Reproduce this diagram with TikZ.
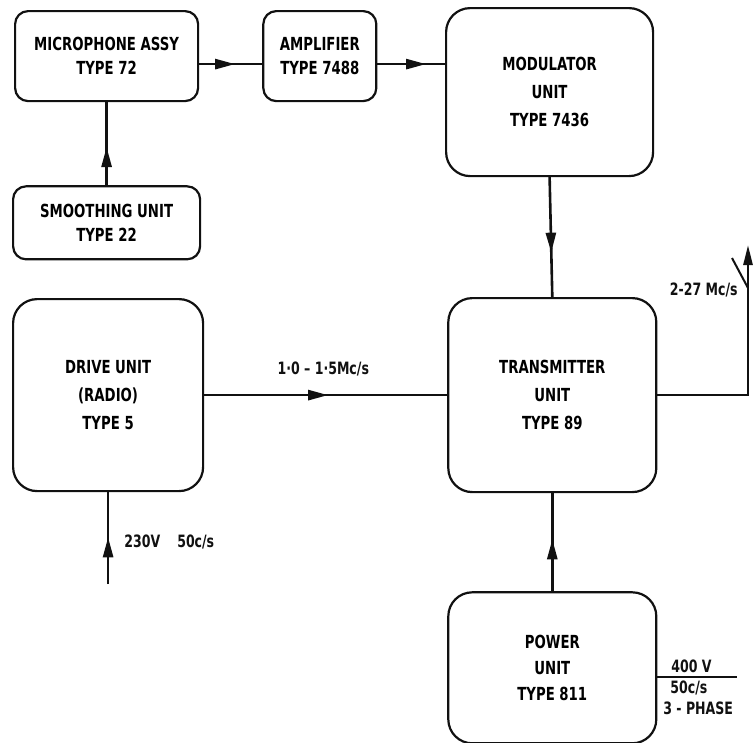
\documentclass[tikz,border=0pt]{standalone}
\usepackage{fontspec}
\usepackage{tikz}
\usetikzlibrary{
  arrows.meta,
  positioning,
  calc,
  decorations.markings
}
\newfontfamily\handfont[FakeStretch=0.82]{DejaVu Sans Condensed}
\definecolor{ink}{HTML}{111111}
\tikzset{
  unit/.style={
    draw=ink, rounded corners=24pt, line width=2.2pt, align=center, inner sep=0pt,
    font=\handfont\bfseries\fontsize{18}{28}\selectfont
  },
  smallunit/.style={unit, rounded corners=13pt, font=\handfont\bfseries\fontsize{18}{24}\selectfont},
  wire/.style={line width=2.6pt, draw=ink, color=ink},
  feed/.style={
    wire, postaction={decorate},
    decoration={markings, mark=at position #1 with {\arrow{Triangle[length=20pt, width=10pt]}}}
  },
  feed/.default=0.5,
  sig/.style={font=\handfont\bfseries\fontsize{17}{21}\selectfont, inner sep=1pt, text=ink}
}

\begin{document}
\begin{tikzpicture}[x=1pt, y=-1pt]
  \useasboundingbox (0,0) rectangle (754,742);
  % units
  \node[smallunit, anchor=north west, minimum width=183pt, minimum height=90pt] (mic) at (14,10) {MICROPHONE ASSY\\TYPE 72};
  \node[smallunit, right=63pt of mic, minimum width=113pt, minimum height=90pt] (amp) {AMPLIFIER\\TYPE 7488};
  \node[unit, anchor=north west, minimum width=207pt, minimum height=168pt] (mod) at (445,7) {MODULATOR\\UNIT\\TYPE 7436};
  \node[smallunit, below=83pt of mic, minimum width=187pt, minimum height=73pt] (smooth) {SMOOTHING UNIT\\TYPE 22};
  \node[unit, anchor=north west, minimum width=190pt, minimum height=192pt] (drive) at (12,298) {DRIVE UNIT\\(RADIO)\\TYPE 5};
  \node[unit, right=243pt of drive, minimum width=208pt, minimum height=194pt] (trans) {TRANSMITTER\\UNIT\\TYPE 89};
  \node[unit, below=98pt of trans, minimum width=208pt, minimum height=151pt, font=\handfont\bfseries\fontsize{18}{26}\selectfont] (power) {POWER\\UNIT\\TYPE 811};
  % free ends
  \coordinate (mains) at ($(drive.south)+(0,92)$);
  \coordinate (aerialfoot) at (trans.east -| 748,0);
  \coordinate (aerialtip) at (748,245);
  \coordinate (dipole) at (732,258);
  \coordinate (aerialknee) at (748,288);
  \coordinate (mainsin) at (737,677);
  % connections
  \draw[feed=0.57] ([yshift=-8pt]mic.east) -- ([yshift=-8pt]amp.west);
  \draw[feed=0.72] ([yshift=-8pt]amp.east) -- ([yshift=-8pt]amp.east -| mod.west);
  \draw[feed=0.46] (smooth.north) -- (mic.south);
  \draw[feed=0.63] (mod.south) -- (trans.north);
  \draw[feed=0.51] (drive.east) -- node[sig, pos=0.49, above=17pt]{1·0 – 1·5Mc/s} (trans.west);
  \draw[feed=0.53] (power.north) -- (trans.south);
  \draw[feed=0.51] (mains) -- node[sig, pos=0.46, anchor=west, xshift=14pt]{230V\quad 50c/s} (drive.south);
  \draw[wire, -{Triangle[length=20pt, width=9pt]}] (trans.east) -- (aerialfoot)
    -- node[sig, pos=0.7, left=8pt]{2-27 Mc/s} (aerialtip);
  \draw[wire, line width=2pt] (dipole) -- (aerialknee);
  \draw[wire, line width=2pt] (mainsin -| power.east) -- (mainsin)
    node[sig, pos=0.15, anchor=south west, yshift=2pt]{400 V}
    node[sig, pos=0.05, anchor=north west, align=left, yshift=-2pt]{\hspace{7pt}50c/s\\3 - PHASE};
\end{tikzpicture}
\end{document}
